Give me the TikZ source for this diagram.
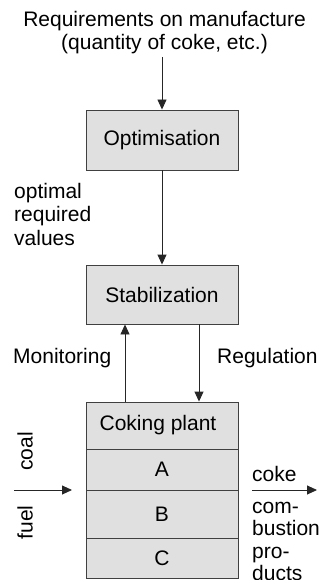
\documentclass[tikz,border=0pt]{standalone}
\usepackage{fontspec}
\setmainfont{Liberation Sans}
\usetikzlibrary{arrows.meta}

\definecolor{boxgray}{HTML}{E0E0E0}
\definecolor{edgegray}{HTML}{404040}

\begin{document}
\begin{tikzpicture}[x=1pt,y=-1pt,
	font=\fontsize{21}{23.5}\selectfont,
	block/.style={draw=edgegray,fill=boxgray,line width=0.9pt,minimum width=152pt,inner sep=0pt},
	flow/.style={draw=black!85,line width=0.9pt,-{Triangle[length=10pt,width=9pt]}},
	txt/.style={inner sep=0pt,align=left}]
	\useasboundingbox (0,0) rectangle (328,580);

	\node[txt,align=center,anchor=base] (req) at (164.5,50) {Requirements on manufacture\\(quantity of coke, etc.)};

	\node[block,minimum height=60pt] (opt) at (162,140) {Optimisation};
	\node[block,minimum height=59pt] (stab) at (162,294.5) {Stabilization};
	\node[block,minimum height=47pt] (plant) at (162,425.5) {\hspace*{-8pt}Coking plant};
	\node[block,minimum height=41pt] (rowa) at (162,469.5) {A};
	\node[block,minimum height=48pt] (rowb) at (162,514) {B};
	\node[block,minimum height=40pt] (rowc) at (162,558) {C};

	\node[txt,anchor=base west] (optval) at (14,245) {optimal\\required\\values};
	\node[txt,anchor=base west] (mon) at (13,363) {Monitoring};
	\node[txt,anchor=base west] (reg) at (217,363) {Regulation};

	\node[txt,anchor=base,rotate=90] (coal) at (32.5,451.5) {coal};
	\node[txt,anchor=base,rotate=90] (fuel) at (32.5,522.5) {fuel};
	\node[txt,anchor=base west] (coke) at (252,481.7) {coke};
	\node[txt,anchor=base west,font=\fontsize{21}{22.5}\selectfont] (prod) at (252,580.5) {com-\\bustion\\pro-\\ducts};

	\coordinate (reqend) at (162,57);
	\coordinate (fuelin) at (14,490);
	\coordinate (fuelend) at (72,490);
	\coordinate (cokeout) at (252,490);
	\coordinate (cokeend) at (317,490);

	\draw[flow] (reqend) -- (opt.north);
	\draw[flow] (opt) -- (stab);
	\draw[flow] ([xshift=-37pt]plant.north) -- ([xshift=-37pt]stab.south);
	\draw[flow] ([xshift=37pt]stab.south) -- ([xshift=37pt]plant.north);
	\draw[flow] (fuelin) -- (fuelend);
	\draw[flow] (cokeout) -- (cokeend);
\end{tikzpicture}
\end{document}
